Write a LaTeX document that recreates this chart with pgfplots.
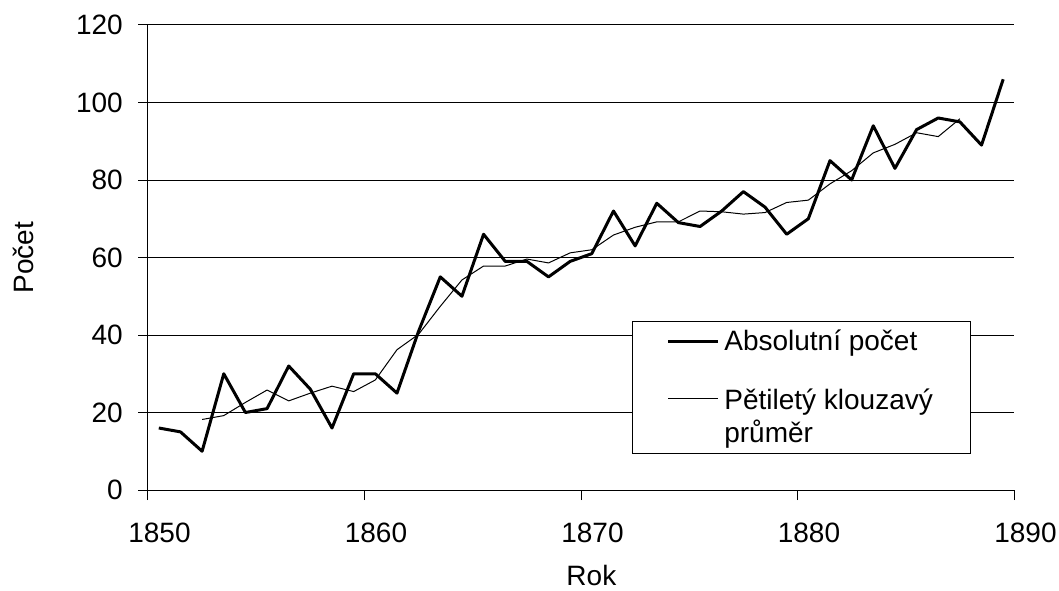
\documentclass[border=0pt]{standalone}
\usepackage{pgfplots}
\pgfplotsset{compat=1.18}
\usepackage{pgfplotstable}
\usepackage{fontspec}
\setmainfont{Liberation Sans}

\pgfplotstableread{
year value
1850.5 16
1851.5 15
1852.5 10
1853.5 30
1854.5 20
1855.5 21
1856.5 32
1857.5 26
1858.5 16
1859.5 30
1860.5 30
1861.5 25
1862.5 41
1863.5 55
1864.5 50
1865.5 66
1866.5 59
1867.5 59
1868.5 55
1869.5 59
1870.5 61
1871.5 72
1872.5 63
1873.5 74
1874.5 69
1875.5 68
1876.5 72
1877.5 77
1878.5 73
1879.5 66
1880.5 70
1881.5 85
1882.5 80
1883.5 94
1884.5 83
1885.5 93
1886.5 96
1887.5 95
1888.5 89
1889.5 106
}\absdata

\pgfplotstableread{
year value
1852.5 18.2
1853.5 19.2
1854.5 22.6
1855.5 25.8
1856.5 23.0
1857.5 25.0
1858.5 26.8
1859.5 25.4
1860.5 28.4
1861.5 36.2
1862.5 40.2
1863.5 47.4
1864.5 54.2
1865.5 57.8
1866.5 57.8
1867.5 59.6
1868.5 58.6
1869.5 61.2
1870.5 62.0
1871.5 65.8
1872.5 67.8
1873.5 69.2
1874.5 69.2
1875.5 72.0
1876.5 71.8
1877.5 71.2
1878.5 71.6
1879.5 74.2
1880.5 74.8
1881.5 79.0
1882.5 82.4
1883.5 87.0
1884.5 89.2
1885.5 92.2
1886.5 91.2
1887.5 95.8
}\madata

\newcommand{\chartfont}{\fontsize{21}{24.75}\selectfont}

\pgfplotsset{
  legA/.style={legend image code/.code={\draw[##1] (0pt,0pt) -- (37pt,0pt); \path[draw=none] (0pt,0pt) -- (40pt,0pt);}},
  legB/.style={legend image code/.code={\draw[##1] (0pt,14pt) -- (37pt,14pt); \path[draw=none] (0pt,-14pt) -- (40pt,14pt);}},
}

\begin{document}
\begin{tikzpicture}
\useasboundingbox (-111pt,-75pt) rectangle (683.25pt,367.5pt);
\begin{axis}[
  at={(0pt,0pt)}, anchor=south west,
  scale only axis,
  width=649.5pt, height=348.75pt,
  xmin=1850, xmax=1890, ymin=0, ymax=120,
  xtick={1850,1860,...,1890},
  ytick={0,20,...,120},
  axis x line=bottom, axis y line=left,
  axis line style={-, line width=0.75pt, black},
  tick style={line width=0.75pt, black},
  tick align=outside,
  major tick length=7.5pt,
  ymajorgrids,
  grid style={line width=0.75pt, black},
  /pgf/number format/assume math mode=true,
  /pgf/number format/1000 sep={},
  tick label style={font=\chartfont},
  yticklabel style={anchor=east, inner sep=0pt, xshift=-11.25pt},
  xticklabel style={anchor=north, inner sep=0pt, xshift=8.6pt, yshift=-17.25pt},
  xlabel={Rok}, ylabel={Počet},
  label style={font=\chartfont},
  xlabel style={at={(axis description cs:0.512,-0.2043)}, anchor=base, inner sep=0pt},
  ylabel style={at={(axis description cs:-0.1443,0.5)}, anchor=center, inner sep=0pt},
  legend style={
    at={(0.5585,0.364)}, anchor=north west,
    draw=black, line width=0.75pt, fill=white,
    font=\chartfont,
    cells={anchor=west, align=left},
    inner xsep=26pt, inner ysep=4.5pt,
    row sep=23.5pt,
  },
]
\addplot[black, line width=2.25pt, line join=round, legA]
  table[x=year,y=value] {\absdata};
\addlegendentry{Absolutní počet}
\addplot[black, line width=0.75pt, line join=round, legB]
  table[x=year,y=value] {\madata};
\addlegendentry{Pětiletý klouzavý\\průměr}
\end{axis}
\end{tikzpicture}
\end{document}
